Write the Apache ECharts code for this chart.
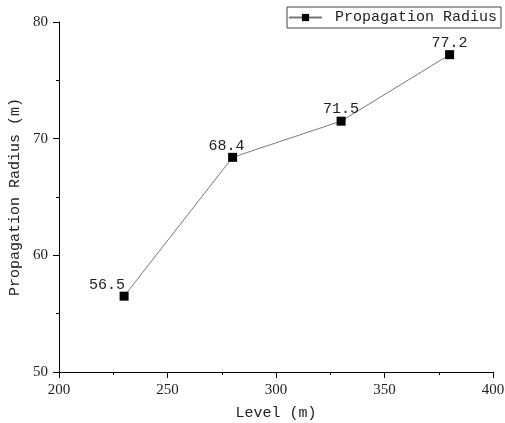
<!DOCTYPE html>
<html><head><meta charset="utf-8">
<script src="https://cdn.jsdelivr.net/npm/echarts@6/dist/echarts.min.js"></script>
<style>html,body{margin:0;padding:0;background:#fff}#c{width:505px;height:423px}</style>
</head><body><div id="c"></div>
<script>
const levels = [230, 280, 330, 380];
const radius = [56.5, 68.4, 71.5, 77.2];
const seriesName = 'Propagation Radius';
const xTitle = 'Level (m)';
const yTitle = 'Propagation Radius (m)';

const labelOffsets = [[-17, 1], [-6, 1], [0, 0], [0, 0]];
const data = levels.map((x, i) => ({
  value: [x, radius[i]],
  label: { offset: labelOffsets[i] }
}));

const mono = 'Liberation Mono';
const serif = 'Liberation Serif';
const chart = echarts.init(document.getElementById('c'), null, {renderer: 'canvas'});
chart.setOption({
  animation: false,
  grid: { left: 59, right: 12, top: 22, bottom: 51, containLabel: false, outerBoundsMode: 'none' },
  legend: {
    left: 287, top: 7,
    padding: [3, 4, 3, 1],
    borderColor: '#444', borderWidth: 1, borderRadius: 0,
    itemWidth: 33, itemHeight: 9,
    textStyle: { fontFamily: mono, fontSize: 15, color: '#222', padding: [0, 0, 0, 8] },
    data: [seriesName]
  },
  xAxis: {
    type: 'value', min: 200, max: 400, interval: 50,
    name: xTitle, nameLocation: 'middle', nameGap: 34,
    nameTextStyle: { fontFamily: mono, fontSize: 15, color: '#222' },
    axisLine: { show: true, lineStyle: { color: '#000', width: 1 } },
    axisTick: { show: true, inside: false, length: 6, lineStyle: { color: '#000' } },
    minorTick: { show: true, splitNumber: 2, length: 3, lineStyle: { color: '#000' } },
    axisLabel: { fontFamily: serif, fontSize: 15, color: '#222', margin: 11 },
    splitLine: { show: false }
  },
  yAxis: {
    type: 'value', min: 50, max: 80, interval: 10,
    name: yTitle, nameLocation: 'middle', nameGap: 31,
    nameTextStyle: { fontFamily: mono, fontSize: 15, color: '#222' },
    axisLine: { show: true, lineStyle: { color: '#000', width: 1 } },
    axisTick: { show: true, inside: false, length: 6, lineStyle: { color: '#000' } },
    minorTick: { show: true, splitNumber: 2, length: 3, lineStyle: { color: '#000' } },
    axisLabel: { fontFamily: serif, fontSize: 15, color: '#222', margin: 11 },
    splitLine: { show: false }
  },
  series: [{
    name: seriesName,
    type: 'line',
    data: data,
    symbol: 'rect', symbolSize: 9,
    itemStyle: { color: '#000' },
    lineStyle: { color: '#777', width: 1 },
    label: {
      show: true, position: 'top', distance: 0,
      fontFamily: mono, fontSize: 15, color: '#222',
      formatter: p => p.value[1].toFixed(1)
    }
  }]
});
</script></body></html>
